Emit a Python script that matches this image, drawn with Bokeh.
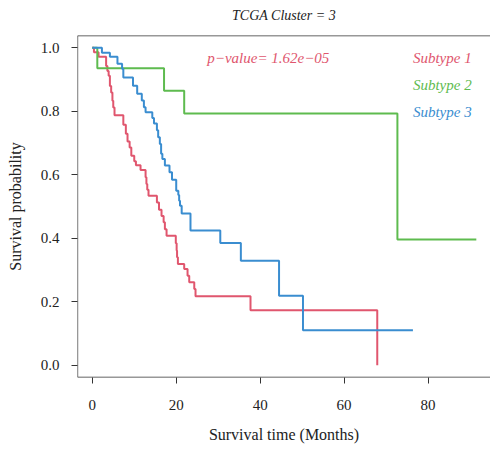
from bokeh.plotting import figure
from bokeh.models import Range1d, FixedTicker, NumeralTickFormatter, Span, Label, Title
from bokeh.embed import file_html
from bokeh.resources import INLINE

# ---- data ----
red_t = [0, 0.4, 1.5, 3.3, 3.6, 3.9, 4.2, 4.5, 4.8, 5.0, 5.3, 7.4, 8.0, 8.4, 8.9, 9.3, 10.0, 10.4,
         11.5, 12.7, 12.9, 13.1, 13.4, 15.4, 15.9, 16.5, 17.0, 17.3, 17.7, 19.9, 20.1, 20.2, 20.4,
         21.9, 22.7, 23.1, 24.3, 24.6, 37.7, 67.9]
red_s = [1.0, 0.986, 0.972, 0.943, 0.927, 0.912, 0.880, 0.859, 0.833, 0.812, 0.788, 0.758, 0.729,
         0.705, 0.686, 0.660, 0.643, 0.630, 0.615, 0.592, 0.571, 0.553, 0.534, 0.513, 0.490, 0.470,
         0.450, 0.428, 0.408, 0.384, 0.361, 0.340, 0.319, 0.303, 0.282, 0.261, 0.240, 0.217, 0.173, 0.0]

green_t = [0, 1.2, 17.1, 21.9, 72.7, 91.5]
green_s = [1.0, 0.936, 0.865, 0.793, 0.396, 0.396]

blue_t = [0, 2.3, 4.2, 6.0, 7.1, 7.4, 9.7, 10.7, 11.8, 12.3, 12.7, 14.3, 14.7, 15.4, 15.7, 16.1,
          16.4, 16.7, 17.3, 18.4, 19.0, 20.0, 20.5, 20.7, 20.9, 21.3, 23.4, 30.5, 35.4, 44.5, 50.2, 76.4]
blue_s = [1.0, 0.985, 0.972, 0.950, 0.934, 0.907, 0.881, 0.855, 0.834, 0.813, 0.797, 0.779, 0.762,
          0.740, 0.718, 0.697, 0.666, 0.650, 0.629, 0.608, 0.584, 0.550, 0.536, 0.518, 0.502, 0.478,
          0.424, 0.385, 0.329, 0.219, 0.110, 0.110]

series_names = ["Subtype 1", "Subtype 2", "Subtype 3"]
x_ticks = [0, 20, 40, 60, 80]
y_ticks = [0.0, 0.2, 0.4, 0.6, 0.8, 1.0]
title_text = "TCGA Cluster = 3"
p_value_text = "p\u2212value= 1.62e\u221205"

RED = "#E0566E"
GREEN = "#5EBB4F"
BLUE = "#3A8DD0"
FONT = "Liberation Serif"
INK = "#222222"

X0, X1 = -3.52, 94.88
Y0, Y1 = -0.039, 1.039

p = figure(width=490, height=451,
           x_range=Range1d(X0, X1), y_range=Range1d(Y0, Y1),
           output_backend="svg", toolbar_location=None,
           min_border_left=77, min_border_right=0, min_border_top=35, min_border_bottom=74)

p.outline_line_color = None
p.grid.visible = False
p.background_fill_color = "white"
p.border_fill_color = "white"

# thin empty spacer panel between the box and the title, lifting the title a little
p.add_layout(Title(text=" ", text_font_size="5px", standoff=0), "above")

# title
p.title.text = title_text
p.title.align = "center"
p.title.text_font = FONT
p.title.text_font_style = "italic"
p.title.text_font_size = "14px"
p.title.text_color = INK

# box (left, top, bottom)
for loc, dim in [(X0, "height"), (Y1, "width"), (Y0, "width")]:
    p.add_layout(Span(location=loc, dimension=dim, line_color="#333333", line_width=1.3))

# axes
for ax in (p.xaxis[0], p.yaxis[0]):
    ax.axis_line_color = None
    ax.major_tick_out = 6
    ax.major_tick_in = 0
    ax.minor_tick_line_color = None
    ax.major_tick_line_color = "#333333"
    ax.major_label_text_font = FONT
    ax.major_label_text_font_size = "15px"
    ax.major_label_text_color = INK
    ax.axis_label_text_font = FONT
    ax.axis_label_text_font_size = "16px"
    ax.axis_label_text_font_style = "normal"
    ax.axis_label_text_color = INK

p.xaxis.ticker = FixedTicker(ticks=x_ticks)
p.yaxis.ticker = FixedTicker(ticks=y_ticks)
p.yaxis.formatter = NumeralTickFormatter(format="0.0")
p.xaxis.axis_label = "Survival time (Months)"
p.yaxis.axis_label = "Survival probability"
p.xaxis.major_label_standoff = 16
p.yaxis.major_label_standoff = 12
p.xaxis.axis_label_standoff = 13
p.yaxis.axis_label_standoff = 14

# curves
p.step(red_t, red_s, mode="after", line_color=RED, line_width=2)
p.step(green_t, green_s, mode="after", line_color=GREEN, line_width=2)
p.step(blue_t, blue_s, mode="after", line_color=BLUE, line_width=2)

# annotations
p.add_layout(Label(x=27.4, y=0.969, text=p_value_text, text_font=FONT, text_font_style="italic",
                   text_font_size="15px", text_color=RED, text_baseline="middle"))
for name, col, yy in zip(series_names, [RED, GREEN, BLUE], [0.969, 0.883, 0.797]):
    p.add_layout(Label(x=76.4, y=yy, text=name, text_font=FONT, text_font_style="italic",
                       text_font_size="15px", text_color=col, text_baseline="middle"))

open("out.html", "w").write(file_html(p, INLINE))
